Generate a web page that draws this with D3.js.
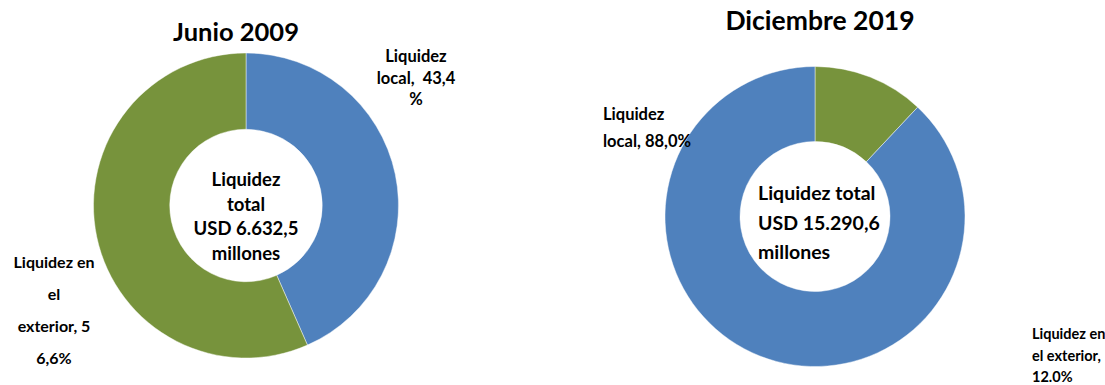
<!DOCTYPE html>
<html>
<head>
<meta charset="utf-8">
<script src="https://cdn.jsdelivr.net/npm/d3@7"></script>
<style>
  html, body { margin: 0; padding: 0; background: #fff; }
  svg text { font-family: "Lato", "Liberation Sans", sans-serif; font-weight: bold; fill: #000; white-space: pre; }
</style>
</head>
<body>
<svg id="chart" width="1105" height="385"></svg>
<script>
// Liquidity composition (% of total), two dates
const categories2009 = ["Liquidez local", "Liquidez en el exterior"];
const values2009 = [43.4, 56.6];
const total2009 = "USD 6.632,5";

const categories2019 = ["Liquidez en el exterior", "Liquidez local"];
const values2019 = [12.0, 88.0];
const total2019 = "USD 15.290,6";

const titles = ["Junio 2009", "Diciembre 2019"];

// Slice label lines as they wrap in each panel
const labels2009 = {
  "Liquidez local": ["Liquidez", "local,  43,4", "%"],
  "Liquidez en el exterior": ["Liquidez en", "el", "exterior, 5", "6,6%"]
};
const labels2019 = {
  "Liquidez local": ["Liquidez", "local, 88,0%"],
  "Liquidez en el exterior": ["Liquidez en", "el exterior,", "12.0%"]
};

const color = d3.scaleOrdinal()
  .domain(["Liquidez local", "Liquidez en el exterior"])
  .range(["#4F81BD", "#77933C"]);

const svg = d3.select("#chart");

function donut(cfg) {
  const g = svg.append("g").attr("transform", `translate(${cfg.cx},${cfg.cy})`);
  const data = cfg.categories.map((c, i) => ({ cat: c, value: cfg.values[i] }));
  const pie = d3.pie().value(d => d.value).sort(null);
  const arc = d3.arc().innerRadius(cfg.r * 0.5).outerRadius(cfg.r);
  g.selectAll("path")
    .data(pie(data))
    .join("path")
    .attr("d", arc)
    .attr("fill", d => color(d.data.cat))
    .attr("stroke", "#ffffff")
    .attr("stroke-opacity", 0.6)
    .attr("stroke-width", 0.75);
}

function textBlock(lines, x, y0, dy, size, anchor) {
  const t = svg.append("text")
    .attr("font-size", size)
    .attr("text-anchor", anchor)
    .attr("xml:space", "preserve");
  lines.forEach((s, i) => {
    t.append("tspan").attr("x", x).attr("y", y0 + i * dy).text(s);
  });
}

// Junio 2009
donut({ cx: 246, cy: 205.5, r: 152.5, categories: categories2009, values: values2009 });
svg.append("text").attr("x", 236).attr("y", 41).attr("font-size", 25.5)
  .attr("text-anchor", "middle").text(titles[0]);
textBlock(["Liquidez", "total", total2009, "millones"], 246, 186, 24.5, 18.5, "middle");
textBlock(labels2009["Liquidez local"], 416, 62, 21.5, 16.5, "middle");
textBlock(labels2009["Liquidez en el exterior"], 54, 268, 32, 16, "middle");

// Diciembre 2019
donut({ cx: 815, cy: 216.5, r: 150, categories: categories2019, values: values2019 });
svg.append("text").attr("x", 820).attr("y", 30).attr("font-size", 26.5)
  .attr("text-anchor", "middle").text(titles[1]);
textBlock(["Liquidez total", total2019, "millones"], 758, 200, 29.5, 19.5, "start");
textBlock(labels2019["Liquidez local"], 603, 120, 27, 16.5, "start");
textBlock(labels2019["Liquidez en el exterior"], 1032, 339, 21.5, 14.5, "start");
</script>
</body>
</html>
